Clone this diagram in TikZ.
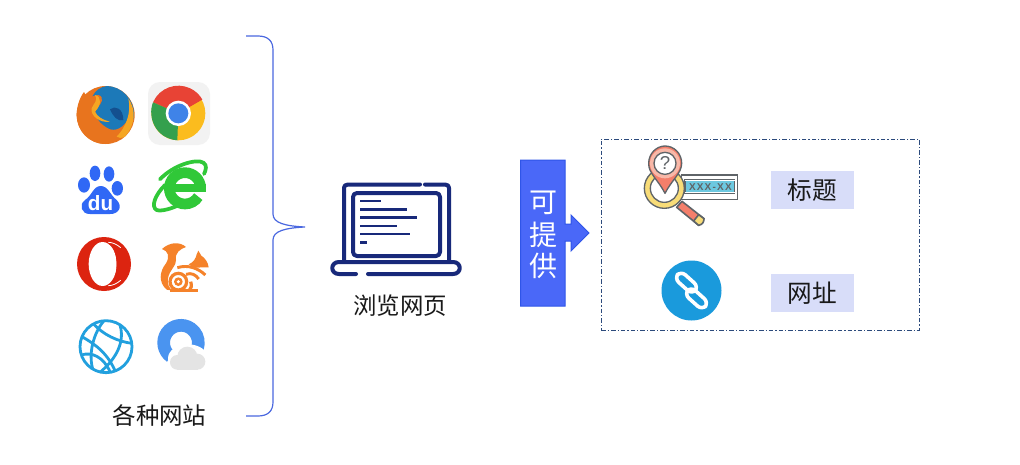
\documentclass[tikz,border=0pt]{standalone}
\usepackage{fontspec}
\setmainfont{Noto Sans CJK SC}
\newfontfamily\latinfont{Liberation Sans}
\definecolor{bluebrace}{HTML}{4A68E0}
\definecolor{blockblue}{HTML}{4A68F8}
\definecolor{blockedge}{HTML}{2F55E8}
\definecolor{navy}{HTML}{18297A}
\definecolor{dashcol}{HTML}{2C4A7C}
\definecolor{labelfill}{HTML}{D8DDF9}
\definecolor{ffo}{HTML}{E8741E}
\definecolor{ffb}{HTML}{1C79B8}
\definecolor{ffy}{HTML}{F5A623}
\definecolor{ffd}{HTML}{14508F}
\definecolor{chr}{HTML}{E84335}
\definecolor{chg}{HTML}{34A04D}
\definecolor{chy}{HTML}{FBBC1E}
\definecolor{chb}{HTML}{3F83E8}
\definecolor{baidu}{HTML}{3068F5}
\definecolor{iegreen}{HTML}{30C838}
\definecolor{opera}{HTML}{DC2410}
\definecolor{ucor}{HTML}{F5822A}
\definecolor{globeb}{HTML}{22A0DE}
\definecolor{ringb}{HTML}{4A94F0}
\definecolor{cloudg}{HTML}{E4E4E4}
\definecolor{salmon}{HTML}{F47F6B}
\definecolor{pinkish}{HTML}{F8B8A8}
\definecolor{yel}{HTML}{F8DC78}
\definecolor{grayline}{HTML}{5F6468}
\definecolor{cyanbox}{HTML}{6CC8E0}
\definecolor{linkb}{HTML}{1A9ADC}
\tikzset{
  zoomA/.style={shift={(60,70)},x=0.25pt,y=-0.25pt},
  zoomB/.style={shift={(60,225)},x=0.25pt,y=-0.25pt},
  zoomC/.style={shift={(600,130)},x=0.25pt,y=-0.25pt},
  caption/.style={font=\fontsize{17.6}{20}\selectfont,text=black!90,inner sep=0pt},
  tag/.style={fill=labelfill,minimum width=62.25pt,minimum height=28.5pt,inner sep=0pt,font=\fontsize{18.5}{20}\selectfont,text=black!90},
  blockchar/.style={text=white,inner sep=0pt,font=\fontsize{21}{22}\selectfont},
  navyline/.style={draw=navy,line width=3pt,line cap=round,line join=round},
  navybar/.style={draw=navy,line width=2.2pt},
  linkcap/.style={draw=white,line width=2.7pt,rounded corners=4.5pt},
}
\begin{document}
\begin{tikzpicture}[x=0.75pt,y=-0.75pt]
\useasboundingbox (0,0) rectangle (1020,464);
\fill[white] (0,0) rectangle (1020,464);

% ---------- brace
\coordinate (bt) at (246,36);
\coordinate (bb) at (246,416);
\coordinate (btip) at (305,227);
\draw[bluebrace,line width=0.9pt] (bt) -- (258,36) .. controls (268,36) and (273,41) .. (273,50)
  -- (273,214) .. controls (273,223) and (285,226) .. (btip)
  .. controls (285,228) and (273,231) .. (273,240)
  -- (273,402) .. controls (273,411) and (268,416) .. (258,416) -- (bb);

% ---------- firefox
\begin{scope}[zoomA]
  \fill[ffo] (137,135) circle[radius=87];
  \fill[ffb] (140,48) .. controls (185,48) and (222,90) .. (222,130)
    .. controls (222,165) and (200,190) .. (165,193)
    .. controls (125,195) and (100,165) .. (95,130)
    .. controls (85,90) and (100,55) .. (140,48) -- cycle;
  \fill[ffo] (72,66) -- (80,80) .. controls (90,85) and (100,75) .. (115,75)
    .. controls (135,80) and (125,105) .. (110,112)
    .. controls (96,135) and (120,165) .. (150,178)
    .. controls (178,186) and (200,160) .. (212,135)
    .. controls (212,175) and (180,215) .. (137,222)
    .. controls (85,222) and (50,180) .. (50,135)
    .. controls (50,110) and (58,85) .. (72,66) -- cycle;
  \fill[ffd] (150,118) .. controls (165,105) and (190,115) .. (190,150)
    .. controls (172,155) and (160,140) .. (150,118) -- cycle;
  \fill[ffy] (205,85) .. controls (228,120) and (228,160) .. (195,200)
    .. controls (185,205) and (175,205) .. (170,200)
    .. controls (197,172) and (215,130) .. (205,85) -- cycle;
  \fill[ffy] (105,75) .. controls (125,80) and (125,105) .. (105,125)
    .. controls (112,140) and (128,150) .. (150,155)
    .. controls (120,160) and (90,137) .. (95,115)
    .. controls (100,100) and (115,95) .. (105,75) -- cycle;
\end{scope}

% ---------- chrome
\fill[black!5,rounded corners=9pt] (148,82) rectangle (210,145);
\begin{scope}[zoomA]
  \def\cx{355}\def\cy{130}
  \fill[chy] (\cx,\cy) circle[radius=81];
  \fill[chr] (\cx,\cy) -- (280,95) arc[start angle=205,end angle=330,radius=83] -- cycle;
  \fill[chr] (\cx,\cy) -- (422,90) -- (300,75) -- (279,97) -- cycle;
  \fill[chg] (\cx,\cy) -- (279,97) .. controls (262,140) and (285,205) .. (352,211) -- cycle;
  \fill[white] (\cx,\cy) circle[radius=38];
  \fill[chb] (\cx,\cy) circle[radius=30];
\end{scope}

% ---------- baidu
\begin{scope}[zoomA]
  \fill[baidu] (105,310) ellipse[x radius=16,y radius=23];
  \fill[baidu] (147,312) ellipse[x radius=16,y radius=23];
  \fill[baidu] (72,345) ellipse[x radius=18,y radius=23];
  \fill[baidu] (172,355) ellipse[x radius=17,y radius=22];
  \fill[baidu] (122,348) .. controls (145,348) and (150,375) .. (170,390)
    .. controls (190,410) and (175,433) .. (150,432)
    -- (90,432) .. controls (65,433) and (55,405) .. (75,390)
    .. controls (95,378) and (100,348) .. (122,348) -- cycle;
\end{scope}
\node[inner sep=0pt,text=white,font=\latinfont\bfseries\fontsize{15.5}{16}\selectfont] (du) at (100.5,203) {du};

% ---------- IE
\begin{scope}[zoomA]
  \draw[iegreen,line width=8pt] (375,355) ++(0:47) arc[start angle=0,end angle=-328,radius=47];
  \draw[iegreen,line width=6pt] (330,355) -- (438,355);
  \draw[iegreen,line width=2.8pt,line cap=round] (300,328) .. controls (340,285) and (410,265) .. (430,278) .. controls (442,285) and (438,300) .. (432,312);
  \draw[iegreen,line width=2.8pt,line cap=round] (315,345) .. controls (285,375) and (272,410) .. (290,420) .. controls (305,425) and (335,415) .. (350,408);
\end{scope}

% ---------- opera
\begin{scope}[zoomB]
  \fill[opera] (132,117) circle[radius=81];
  \fill[white] (128,117) ellipse[x radius=42,y radius=66];
  \fill[opera] (145,56) .. controls (175,65) and (182,165) .. (145,179) .. controls (200,180) and (210,60) .. (145,56) -- cycle;
  \draw[white,line width=0.6pt] (145,52) .. controls (158,52) and (170,58) .. (182,68);
  \draw[white,line width=0.6pt] (145,182) .. controls (158,182) and (170,176) .. (182,166);
\end{scope}

% ---------- uc
\begin{scope}[zoomB,ucor]
  \fill (306,72) .. controls (330,50) and (360,50) .. (378,66)
    .. controls (360,72) and (344,84) .. (348,105)
    .. controls (350,122) and (328,135) .. (324,160)
    .. controls (322,175) and (325,188) .. (338,197) -- (320,194)
    .. controls (295,172) and (298,140) .. (318,115)
    .. controls (330,95) and (325,78) .. (306,72) -- cycle;
  \draw[line width=2.2pt] (352,128) .. controls (385,118) and (415,130) .. (436,150);
  \draw[line width=2.2pt] (378,148) .. controls (395,142) and (408,150) .. (416,162);
  \fill (386,118) .. controls (402,112) and (408,98) .. (410,88) -- (415,77) -- (424,92)
    .. controls (436,100) and (444,112) .. (446,127) -- (424,127)
    .. controls (410,130) and (396,127) .. (386,118) -- cycle;
  \draw[line width=2.4pt] (355,170) circle[radius=25];
  \fill (355,170) circle[radius=13];
  \fill[white] (355,170) circle[radius=5];
  \draw[line width=2.4pt] (392,170) .. controls (396,182) and (394,190) .. (388,196);
  \draw[line width=2.4pt] (330,196) -- (415,196);
\end{scope}

% ---------- globe
\begin{scope}[zoomB,globeb,line width=2.1pt]
  \draw (138,365) circle[radius=78];
  \draw (100,296) .. controls (130,330) and (175,350) .. (216,355);
  \draw (66,335) .. controls (100,355) and (140,380) .. (165,437);
  \draw (132,287) .. controls (100,325) and (85,385) .. (98,432);
  \draw (180,300) .. controls (195,350) and (170,400) .. (120,442);
  \draw (64,390) .. controls (95,380) and (130,395) .. (150,440);
\end{scope}

% ---------- cloud ring
\begin{scope}[zoomB]
  \draw[ringb,line width=9.5pt] (363,353) ++(125:52) arc[start angle=125,end angle=405,radius=52];
  \fill[white] (384,400) ellipse[x radius=60,y radius=42];
  \fill[cloudg] (352,412) circle[radius=22];
  \fill[cloudg] (382,395) circle[radius=30];
  \fill[cloudg] (412,410) circle[radius=24];
  \fill[cloudg] (352,418) rectangle (415,434);
\end{scope}

% ---------- captions left
\node[caption] (sites) at (159.5,416) {各种网站};

% ---------- laptop
\draw[navyline] (420,184.5) -- (348,184.5) .. controls (345,184.5) and (344,186) .. (344,188) -- (344,261);
\draw[navyline] (425,184.5) -- (445,184.5) .. controls (448,184.5) and (449,186) .. (449,188) -- (449,261);
\draw[navyline,rounded corners=3pt] (353,193) rectangle (440,256);
\draw[navyline] (356,274) -- (339,274) .. controls (330,274) and (330,262) .. (339,262) -- (453,262) .. controls (462,262) and (462,274) .. (453,274) -- (368,274);
\draw[navybar] (360,201) -- (381,201);
\draw[navybar] (360,209.5) -- (407,209.5);
\draw[navybar] (360,217.5) -- (417,217.5);
\draw[navybar] (360,226) -- (397,226);
\draw[navybar] (360,234) -- (410,234);
\draw[navybar] (360,242.5) -- (367,242.5);
\node[caption] (browse) at (400,306) {浏览网页};

% ---------- block arrow
\draw[blockedge,fill=blockblue,line width=0.75pt,line join=miter]
  (520.5,160) -- (565,160) -- (565,224) -- (571,224) -- (571,215) -- (589,233) -- (571,251) -- (571,241) -- (565,241) -- (565,306) -- (520.5,306) -- cycle;
\node[blockchar] (k) at (543,203) {可};
\node[blockchar] (t) at (543,234.5) {提};
\node[blockchar] (g) at (543,266) {供};

% ---------- dashed frame
\node[draw=dashcol,line width=0.7pt,dash pattern=on 3.5pt off 1.5pt on 0.9pt off 1.5pt,minimum width=238.5pt,minimum height=143.25pt,inner sep=0pt] (frame) at (760,234.5) {};

% ---------- tags
\node[tag] (title) at (812.5,190) {标题};
\node[tag] (url) at (812.5,293) {网址};

% ---------- search pin icon
\begin{scope}[zoomC]
  \draw[grayline,line width=1.2pt,fill=salmon,line join=round] (246,214) -- (312,266) -- (296,286) -- (230,232) -- cycle;
  \draw[grayline,line width=1.2pt,fill=yel,line join=round] (296,254) -- (312,266) .. controls (312,278) and (306,284) .. (296,286) -- (281,273) -- cycle;
  \draw[grayline,line width=1.1pt,fill=white] (245,135) rectangle (413,208);
  \draw[grayline,line width=0.9pt,fill=cyanbox] (255,148) rectangle (404,190);
  \fill[cyanbox] (258,154) rectangle (401,185);
  \draw[white,line width=0.8pt] (255,151) -- (404,151) (255,187) -- (404,187);
  \node[inner sep=0pt,text=grayline,font=\latinfont\bfseries\fontsize{7.5}{8}\selectfont\addfontfeature{LetterSpace=12}] (xx) at (331,171) {XXX-XX};
  \draw[grayline,line width=1pt,fill=yel,even odd rule] (193,175) circle[radius=60] (193,175) circle[radius=42];
  \draw[grayline,line width=1pt,fill=salmon,line join=round] (195,190) .. controls (175,150) and (145,130) .. (146,100)
     .. controls (146,70) and (170,48) .. (195,48) .. controls (222,48) and (245,70) .. (245,100)
     .. controls (245,130) and (215,150) .. (195,190) -- cycle;
  \fill[pinkish] (195,100) circle[radius=45];
  \draw[grayline,line width=1pt,fill=white] (195,100) circle[radius=33];
  \node[inner sep=0pt,text=grayline,font=\latinfont\fontsize{14}{14}\selectfont] (q) at (195,100) {?};
\end{scope}

% ---------- link icon
\fill[linkb] (691.5,290.5) circle[radius=30];
\begin{scope}[shift={(691.5,290.5)},rotate=-42]
  \draw[linkcap] (-21,-7.5) rectangle (3,2.5);
  \draw[linkcap] (-3,-2.5) rectangle (21,7.5);
\end{scope}
\end{tikzpicture}
\end{document}
